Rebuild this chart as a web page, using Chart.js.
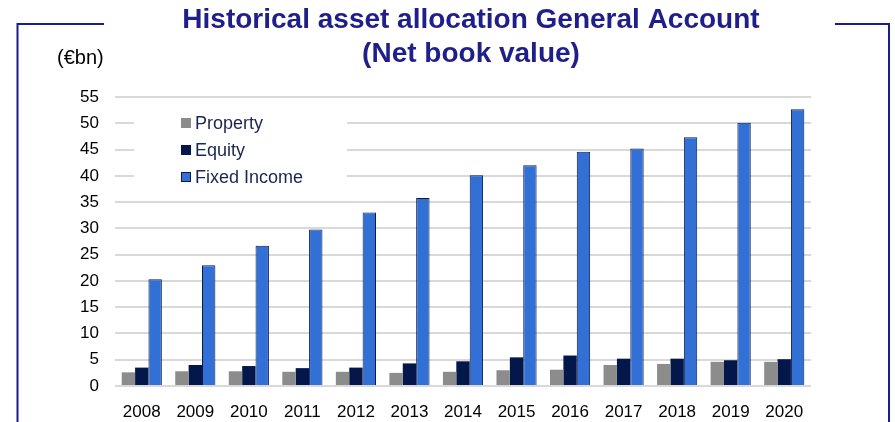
<!DOCTYPE html>
<html>
<head>
<meta charset="utf-8">
<script src="https://cdn.jsdelivr.net/npm/chart.js@4/dist/chart.umd.min.js"></script>
<style>
  html, body { margin: 0; padding: 0; background: #ffffff; }
  #wrap { position: relative; width: 895px; height: 422px; }
</style>
</head>
<body>
<div id="wrap"><canvas id="c" width="895" height="422"></canvas></div>
<script>
const categories = ['2008','2009','2010','2011','2012','2013','2014','2015','2016','2017','2018','2019','2020'];
const property    = [2.6, 2.8, 2.8, 2.7, 2.7, 2.5, 2.7, 3.0, 3.1, 4.0, 4.2, 4.6, 4.6];
const equity      = [3.5, 4.0, 3.8, 3.4, 3.5, 4.3, 4.7, 5.45, 5.8, 5.2, 5.2, 4.9, 5.1];
const fixedIncome = [20.3, 23.0, 26.7, 29.8, 33.0, 35.8, 40.1, 42.0, 44.6, 45.2, 47.35, 50.1, 52.65];
const seriesNames = ['Property', 'Equity', 'Fixed Income'];
const titleLines = ['Historical asset allocation General Account', '(Net book value)'];
const unitLabel = '(€bn)';

const colors = ['#8c8c8c', '#03174a', '#3370d6'];
const navy = '#1c1c8e';

const decor = {
  id: 'decor',
  beforeDraw(chart) {
    const ctx = chart.ctx;
    ctx.save();
    ctx.fillStyle = '#fff';
    ctx.fillRect(0, 0, chart.width, chart.height);
    // frame
    ctx.strokeStyle = navy;
    ctx.lineWidth = 2;
    ctx.beginPath();
    ctx.moveTo(104, 24); ctx.lineTo(17.5, 24); ctx.lineTo(17.5, 422);
    ctx.moveTo(835, 24); ctx.lineTo(889, 24); ctx.lineTo(889, 422);
    ctx.stroke();
    // title
    ctx.fillStyle = '#1f1f8c';
    ctx.font = 'bold 28px "Liberation Sans", Arial, sans-serif';
    ctx.textAlign = 'center';
    ctx.textBaseline = 'alphabetic';
    ctx.fillText(titleLines[0], 471, 28);
    ctx.fillText(titleLines[1], 471, 62);
    // unit
    ctx.fillStyle = '#000';
    ctx.font = '20px "Liberation Sans", Arial, sans-serif';
    ctx.textAlign = 'left';
    ctx.textBaseline = 'middle';
    ctx.fillText(unitLabel, 57, 58);
    ctx.restore();
  },
  afterDatasetsDraw(chart) {
    const ctx = chart.ctx;
    ctx.save();
    ctx.fillStyle = '#fff';
    ctx.fillRect(134, 108, 213, 82);
    ctx.font = '18px "Liberation Sans", Arial, sans-serif';
    ctx.textBaseline = 'middle';
    ctx.textAlign = 'left';
    const ys = [123, 150, 177];
    seriesNames.forEach((n, i) => {
      ctx.fillStyle = colors[i];
      ctx.fillRect(181, ys[i] - 5, 10, 10);
      if (i === 2) {
        ctx.strokeStyle = '#0b1a4a';
        ctx.lineWidth = 1;
        ctx.strokeRect(181.5, ys[i] - 4.5, 9, 9);
      }
      ctx.fillStyle = '#1a2550';
      ctx.fillText(n, 195, ys[i] + 1);
    });
    ctx.restore();
  }
};

new Chart(document.getElementById('c'), {
  type: 'bar',
  data: {
    labels: categories,
    datasets: [
      { label: seriesNames[0], data: property, backgroundColor: colors[0], borderWidth: 0 },
      { label: seriesNames[1], data: equity, backgroundColor: colors[1], borderWidth: 0 },
      { label: seriesNames[2], data: fixedIncome, backgroundColor: colors[2], borderColor: '#0b1a4a', borderWidth: 1 }
    ]
  },
  options: {
    responsive: false,
    animation: false,
    devicePixelRatio: 1,
    layout: { padding: { top: 97, right: 84, bottom: 0, left: 0 } },
    datasets: { bar: { barPercentage: 1.0, categoryPercentage: 0.75 } },
    plugins: { legend: { display: false }, title: { display: false }, tooltip: { enabled: false } },
    scales: {
      x: {
        grid: { display: false },
        border: { display: false },
        ticks: { color: '#000', font: { family: '"Liberation Sans", Arial, sans-serif', size: 17 }, padding: 8, maxRotation: 0, autoSkip: false },
        afterFit(scale) { scale.height = 36; }
      },
      y: {
        min: 0, max: 55,
        grid: { color: '#d9d9d9', lineWidth: 2, drawTicks: false },
        border: { display: false },
        ticks: { stepSize: 5, color: '#000', font: { family: '"Liberation Sans", Arial, sans-serif', size: 17 }, padding: 16 },
        afterFit(scale) { scale.width = 115; }
      }
    }
  },
  plugins: [decor]
});
</script>
</body>
</html>
